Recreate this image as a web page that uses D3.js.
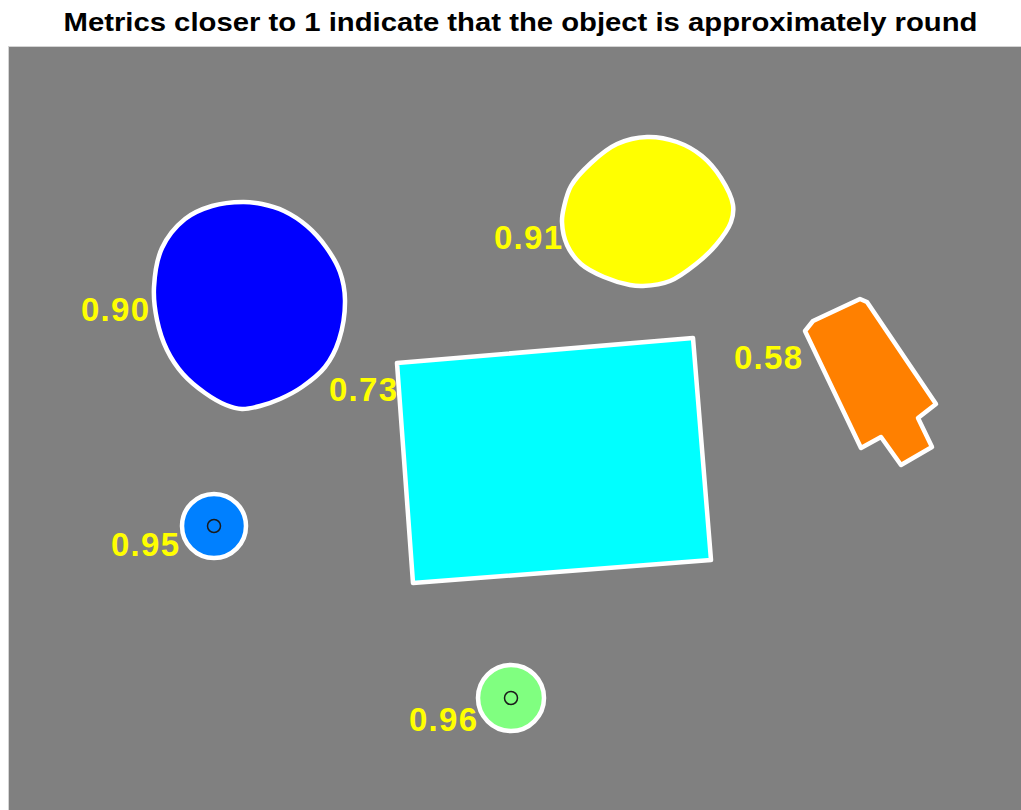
<!DOCTYPE html>
<html>
<head>
<meta charset="utf-8">
<script src="https://cdn.jsdelivr.net/npm/d3@7"></script>
<style>
  html, body { margin: 0; padding: 0; background: #ffffff; }
  svg { display: block; }
</style>
</head>
<body>
<svg id="chart" width="1021" height="810"></svg>
<script>
// ---- data (image pixel coordinates) ----
const titleText = "Metrics closer to 1 indicate that the object is approximately round";

const blueBlob = [[243,202],[262,204],[284,211],[307,226],[326,247],[340,272],[345,300],[339,340],[325,367],[302,387],[280,399],[260,406],[242,409],[226,405],[205,393],[183,374],[167,350],[157,320],[154,287],[162,248],[185,219],[212,206]];
const yellowBlob = [[647,137],[677,142],[702,156],[721,178],[733,205],[731,222],[716,245],[696,264],[670,281],[643,286],[630,285],[604,277],[581,264],[567,245],[562,222],[564,207],[571,186],[591,163],[617,144]];
const cyanRect = [[397,363],[693,338],[711,560],[413,583]];
const orangeShape = [[805,331],[813,321],[860,299],[867,302],[936,404],[918,418],[932,447],[901,465],[881,437],[861,448]];

const blobShapes = [
  {name: "blue", pts: blueBlob, fill: "#0000ff", curve: "smooth"},
  {name: "yellow", pts: yellowBlob, fill: "#ffff00", curve: "smooth"},
  {name: "cyan", pts: cyanRect, fill: "#00ffff", curve: "poly"},
  {name: "orange", pts: orangeShape, fill: "#ff8000", curve: "poly"}
];

const circleCenters = [[214,526],[511,698]];
const circleRadii = [32,33];
const circleFills = ["#0080ff","#80ff80"];

const metricLabels = ["0.90","0.91","0.73","0.58","0.95","0.96"];
const labelX = [81,494,329,734,111,409];
const labelY = [309,237,389,357,544,719];

// ---- layout ----
const svg = d3.select("#chart");
const imgLeft = 9, imgTop = 47, imgRight = 1021, imgBottom = 810;
const x = d3.scaleLinear().domain([imgLeft, imgRight]).range([imgLeft, imgRight]);
const y = d3.scaleLinear().domain([imgTop, imgBottom]).range([imgTop, imgBottom]);

// image background
svg.append("rect")
  .attr("x", x(imgLeft) - 1).attr("y", y(imgTop) - 1)
  .attr("width", x(imgRight) - x(imgLeft) + 2).attr("height", y(imgBottom) - y(imgTop) + 2)
  .attr("fill", "#d4d4d4");
svg.append("rect")
  .attr("x", x(imgLeft)).attr("y", y(imgTop))
  .attr("width", x(imgRight) - x(imgLeft)).attr("height", y(imgBottom) - y(imgTop))
  .attr("fill", "#808080");

// title
svg.append("text")
  .attr("x", 520.5).attr("y", 31)
  .attr("text-anchor", "middle")
  .attr("font-family", "Liberation Sans, Arial, sans-serif")
  .attr("font-weight", "bold")
  .attr("font-size", 26)
  .attr("textLength", 914)
  .attr("lengthAdjust", "spacingAndGlyphs")
  .attr("fill", "#000")
  .text(titleText);

// shapes
const smoothLine = d3.line().x(d => x(d[0])).y(d => y(d[1])).curve(d3.curveCatmullRomClosed.alpha(0.5));
const polyLine = d3.line().x(d => x(d[0])).y(d => y(d[1])).curve(d3.curveLinearClosed);

svg.append("g").selectAll("path")
  .data(blobShapes)
  .join("path")
  .attr("d", d => (d.curve === "smooth" ? smoothLine : polyLine)(d.pts))
  .attr("fill", d => d.fill)
  .attr("stroke", "#ffffff")
  .attr("stroke-width", 4.5)
  .attr("stroke-linejoin", "round");

// circles
const circles = circleCenters.map((c, i) => ({c, r: circleRadii[i], fill: circleFills[i]}));
const cg = svg.append("g");
cg.selectAll("circle.obj")
  .data(circles)
  .join("circle")
  .attr("class", "obj")
  .attr("cx", d => x(d.c[0])).attr("cy", d => y(d.c[1]))
  .attr("r", d => d.r)
  .attr("fill", d => d.fill)
  .attr("stroke", "#ffffff")
  .attr("stroke-width", 4.5);
cg.selectAll("circle.cent")
  .data(circles)
  .join("circle")
  .attr("class", "cent")
  .attr("cx", d => x(d.c[0])).attr("cy", d => y(d.c[1]))
  .attr("r", 6.5)
  .attr("fill", "none")
  .attr("stroke", "#1a1a1a")
  .attr("stroke-width", 1.5);

// labels
svg.append("g").selectAll("text")
  .data(metricLabels)
  .join("text")
  .attr("x", (d, i) => x(labelX[i]))
  .attr("y", (d, i) => y(labelY[i]))
  .attr("dy", "0.36em")
  .attr("font-family", "Liberation Sans, Arial, sans-serif")
  .attr("font-weight", "bold")
  .attr("font-size", 33)
  .attr("textLength", 68)
  .attr("lengthAdjust", "spacing")
  .attr("fill", "#ffff00")
  .text(d => d);
</script>
</body>
</html>
